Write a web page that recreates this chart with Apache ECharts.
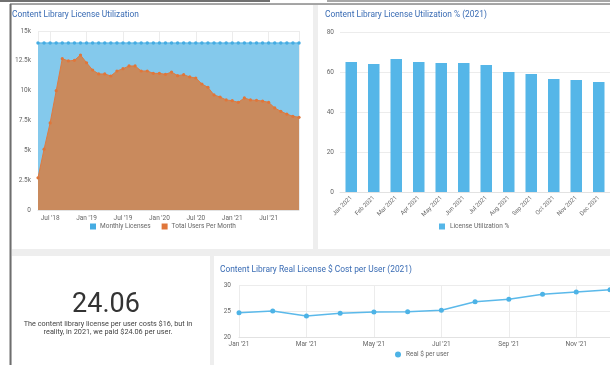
<!DOCTYPE html>
<html>
<head>
<meta charset="utf-8">
<script src="https://cdn.jsdelivr.net/npm/echarts@6/dist/echarts.min.js"></script>
<style>
  html, body { margin: 0; padding: 0; background: #ffffff; }
  #chart { width: 610px; height: 365px; }
</style>
</head>
<body>
<div id="chart"></div>
<script>
// Monthly license counts vs. users, May 2018 - Dec 2021
const months = [
  "May '18", "Jun '18", "Jul '18", "Aug '18", "Sep '18", "Oct '18", "Nov '18", "Dec '18",
  "Jan '19", "Feb '19", "Mar '19", "Apr '19", "May '19", "Jun '19", "Jul '19", "Aug '19",
  "Sep '19", "Oct '19", "Nov '19", "Dec '19", "Jan '20", "Feb '20", "Mar '20", "Apr '20",
  "May '20", "Jun '20", "Jul '20", "Aug '20", "Sep '20", "Oct '20", "Nov '20", "Dec '20",
  "Jan '21", "Feb '21", "Mar '21", "Apr '21", "May '21", "Jun '21", "Jul '21", "Aug '21",
  "Sep '21", "Oct '21", "Nov '21", "Dec '21"
];
const monthlyLicenses = [
  14000, 14000, 14000, 14000, 14000, 14000, 14000, 14000, 14000, 14000, 14000,
  14000, 14000, 14000, 14000, 14000, 14000, 14000, 14000, 14000, 14000, 14000,
  14000, 14000, 14000, 14000, 14000, 14000, 14000, 14000, 14000, 14000, 14000,
  14000, 14000, 14000, 14000, 14000, 14000, 14000, 14000, 14000, 14000, 14000
];
const totalUsers = [
  2700, 5100, 7300, 10000, 12680, 12490, 12540, 12990, 12340, 11730, 11400,
  11400, 11230, 11650, 11840, 12070, 12070, 11650, 11650, 11450, 11450, 11370,
  11560, 11260, 11340, 11150, 11060, 10560, 10280, 9640, 9470, 9220, 9160,
  9020, 9390, 9220, 9190, 9130, 9020, 8550, 8270, 8040, 7850, 7770
];

// 2021 utilization percentage per month
const utilMonths = ["Jan 2021", "Feb 2021", "Mar 2021", "Apr 2021", "May 2021", "Jun 2021",
                    "Jul 2021", "Aug 2021", "Sep 2021", "Oct 2021", "Nov 2021", "Dec 2021"];
const utilization = [65, 64, 66.5, 65, 64.5, 64.5, 63.5, 60, 59, 56.5, 56, 55];

// 2021 real cost per user
const costMonths = ["Jan '21", "Feb '21", "Mar '21", "Apr '21", "May '21", "Jun '21",
                    "Jul '21", "Aug '21", "Sep '21", "Oct '21", "Nov '21", "Dec '21"];
const realCost = [24.78, 25.1, 24.14, 24.66, 24.91, 24.97, 25.24, 26.9, 27.36, 28.33, 28.78, 29.23];

const kpiValue = "24.06";
const kpiText = "The content library license per user costs $16, but in\nreality, in 2021, we paid $24.06 per user.";

const FONT = "Roboto";
const LABEL = { color: "#666", fontSize: 6.5, fontFamily: FONT };
const GRIDLINE = { lineStyle: { color: "#ececec", width: 1 } };
const TITLE = { color: "#3a6cb4", fontSize: 8.4, fontWeight: "normal", fontFamily: FONT };

const isHalfYear = (i, v) => /^(Jan|Jul)/.test(v);

const chart = echarts.init(document.getElementById("chart"), null, { renderer: "canvas" });

chart.setOption({
  animation: false,
  title: [
    { text: "Content Library License Utilization", left: 12, top: 10.5, padding: 0, textStyle: TITLE },
    { text: "Content Library License Utilization % (2021)", left: 325, top: 10.5, padding: 0, textStyle: TITLE },
    { text: "Content Library Real License $ Cost per User (2021)", left: 220, top: 265.5, padding: 0, textStyle: TITLE }
  ],
  legend: [
    { data: ["Monthly Licenses", "Total Users Per Month"], left: 90, top: 223, padding: 0,
      icon: "rect", itemWidth: 6, itemHeight: 6, itemGap: 11, textStyle: { ...LABEL, padding: [0, 0, 0, -1] } },
    { data: ["License Utilization %"], left: 439, top: 223, padding: 0,
      icon: "rect", itemWidth: 6, itemHeight: 6, textStyle: { ...LABEL } },
    { data: ["Real $ per user"], left: 395, top: 351, padding: 0,
      icon: "circle", itemWidth: 6, itemHeight: 6, textStyle: { ...LABEL } }
  ],
  grid: [
    { left: 38, top: 31, width: 261, height: 179 },
    { left: 340, top: 32, width: 273.6, height: 160 },
    { left: 239, top: 285.7, width: 374, height: 51.6 }
  ],
  xAxis: [
    { type: "category", gridIndex: 0, data: months, boundaryGap: false,
      axisLine: { lineStyle: { color: "#e2e2e2" } }, axisTick: { show: false },
      axisLabel: { ...LABEL, margin: 5, interval: isHalfYear },
      splitLine: { show: true, interval: (i, v) => i === 0 || i === months.length - 1 || isHalfYear(i, v), ...GRIDLINE } },
    { type: "category", gridIndex: 1, data: utilMonths,
      axisLine: { lineStyle: { color: "#e2e2e2" } }, axisTick: { show: false },
      axisLabel: { ...LABEL, fontSize: 6, rotate: 45, margin: 5, interval: 0 } },
    { type: "category", gridIndex: 2, data: costMonths, boundaryGap: false,
      axisLine: { lineStyle: { color: "#e2e2e2" } }, axisTick: { show: false },
      axisLabel: { ...LABEL, margin: 4, interval: 1 },
      splitLine: { show: true, interval: 1, ...GRIDLINE } }
  ],
  yAxis: [
    { type: "value", gridIndex: 0, min: 0, max: 15000, interval: 2500,
      axisLabel: { ...LABEL, margin: 7, formatter: v => v === 0 ? "0" : (v / 1000) + "k" },
      splitLine: GRIDLINE },
    { type: "value", gridIndex: 1, min: 0, max: 80, interval: 20,
      axisLabel: { ...LABEL, margin: 6 }, splitLine: GRIDLINE },
    { type: "value", gridIndex: 2, min: 20, max: 30, interval: 5,
      axisLabel: { ...LABEL, margin: 8 }, splitLine: GRIDLINE }
  ],
  series: [
    { name: "Monthly Licenses", type: "line", xAxisIndex: 0, yAxisIndex: 0, data: monthlyLicenses,
      symbol: "circle", symbolSize: 3.5, showAllSymbol: true,
      itemStyle: { color: "#45ace2" }, lineStyle: { color: "#4cb0e4", width: 1 },
      areaStyle: { color: "#84c9ec", opacity: 1 } },
    { name: "Total Users Per Month", type: "line", xAxisIndex: 0, yAxisIndex: 0, data: totalUsers,
      symbol: "circle", symbolSize: 3.2, showAllSymbol: true,
      itemStyle: { color: "#e0763a" }, lineStyle: { color: "#e07a40", width: 1 },
      areaStyle: { color: "#c98a5d", opacity: 1 } },
    { name: "License Utilization %", type: "bar", xAxisIndex: 1, yAxisIndex: 1, data: utilization,
      barWidth: 11.5, itemStyle: { color: "#55b6e8" } },
    { name: "Real $ per user", type: "line", xAxisIndex: 2, yAxisIndex: 2, data: realCost,
      symbol: "circle", symbolSize: 5, showAllSymbol: true,
      itemStyle: { color: "#4db3e6" }, lineStyle: { color: "#5bb9ea", width: 1.5 } }
  ],
  graphic: [
    // dashboard backdrop and panels
    { type: "rect", z: -10, shape: { x: 11, y: 4, width: 600, height: 361 }, style: { fill: "#eeeeee" } },
    { type: "rect", z: -9, shape: { x: 12, y: 5, width: 301, height: 244 }, style: { fill: "#ffffff" } },
    { type: "rect", z: -9, shape: { x: 318, y: 5, width: 292, height: 244 }, style: { fill: "#ffffff" } },
    { type: "rect", z: -9, shape: { x: 12, y: 256, width: 198, height: 109 }, style: { fill: "#ffffff" } },
    { type: "rect", z: -9, shape: { x: 214, y: 256, width: 396, height: 109 }, style: { fill: "#ffffff" } },
    // window frame
    { type: "line", z: 100, shape: { x1: 0, y1: 1, x2: 270, y2: 1 }, style: { stroke: "#707070", lineWidth: 2 } },
    { type: "line", z: 100, shape: { x1: 327, y1: 1, x2: 610, y2: 1 }, style: { stroke: "#8a8a8a", lineWidth: 1.5 } },
    { type: "line", z: 100, shape: { x1: 10, y1: 4, x2: 610, y2: 4 }, style: { stroke: "#8a8a8a", lineWidth: 1.5 } },
    { type: "line", z: 100, shape: { x1: 10.5, y1: 4, x2: 10.5, y2: 365 }, style: { stroke: "#6e6e6e", lineWidth: 2 } },
    // KPI panel
    { type: "text", z: 10, x: 106, y: 305,
      style: { text: kpiValue, fill: "#333333", font: "27px Roboto", align: "center", verticalAlign: "middle" } },
    { type: "text", z: 10, x: 108, y: 328,
      style: { text: kpiText, fill: "#444444", font: "7.3px Roboto", lineHeight: 8.5, align: "center", verticalAlign: "middle" } }
  ]
});
</script>
</body>
</html>
